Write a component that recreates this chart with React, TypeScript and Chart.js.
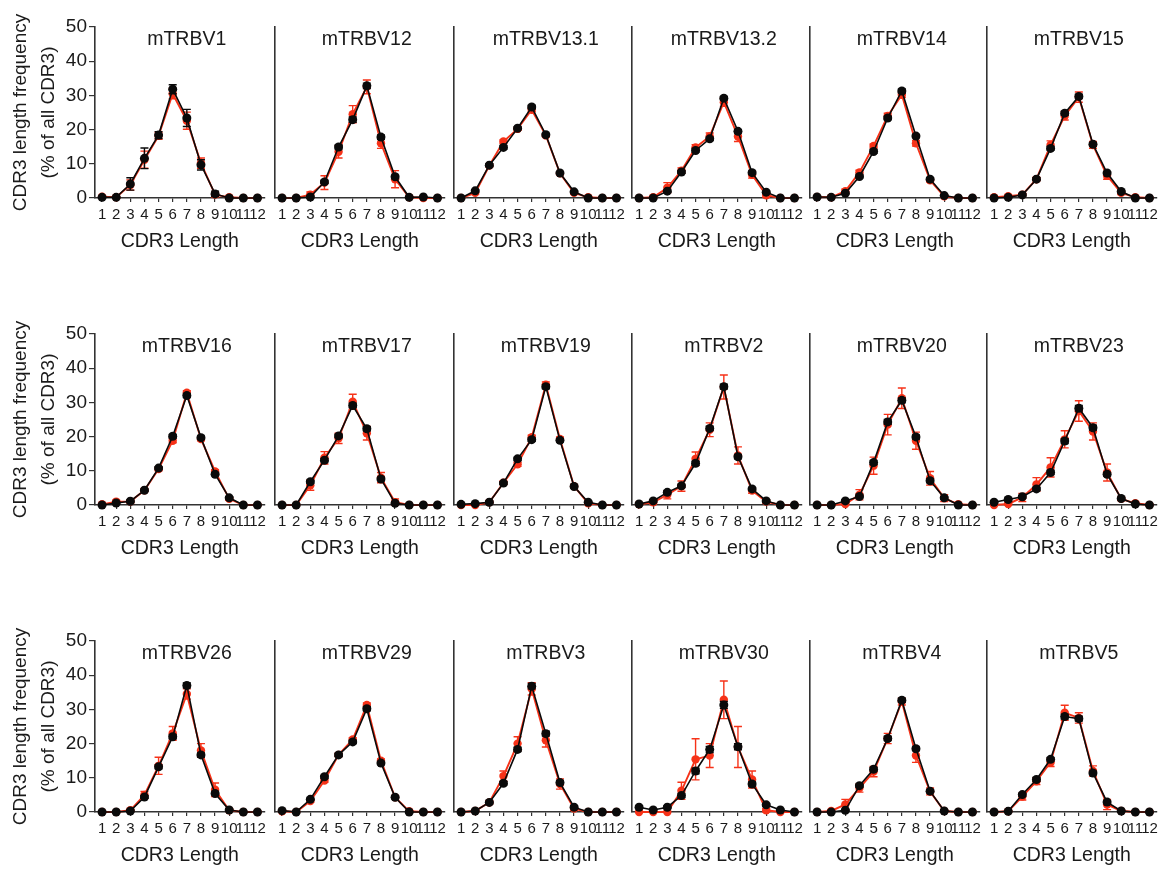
import React, { useEffect, useRef } from "react";
import { Chart, registerables } from "chart.js";

Chart.register(...registerables);

// ---------------- data ----------------
const panelTitles = [
  "mTRBV1", "mTRBV12", "mTRBV13.1", "mTRBV13.2", "mTRBV14", "mTRBV15",
  "mTRBV16", "mTRBV17", "mTRBV19", "mTRBV2", "mTRBV20", "mTRBV23",
  "mTRBV26", "mTRBV29", "mTRBV3", "mTRBV30", "mTRBV4", "mTRBV5",
];

const cdr3Lengths = ["1", "2", "3", "4", "5", "6", "7", "8", "9", "10", "11", "12"];
const yTickValues = [0, 10, 20, 30, 40, 50];
const xAxisTitle = "CDR3 Length";
const yAxisTitle = ["CDR3 length frequency", "(% of all CDR3)"];

const redMeans = [
  [0.4, 0.2, 3.8, 11.2, 18.2, 30.5, 22.6, 10.2, 1.0, 0.2, 0, 0],
  [0, 0, 1.0, 4.5, 13.5, 24.5, 32.5, 16.0, 5.5, 0.2, 0, 0],
  [0, 1.5, 9.5, 16.5, 20.2, 25.8, 18.3, 7.2, 1.5, 0.2, 0, 0],
  [0, 0.2, 3.0, 8.0, 14.8, 18.0, 28.0, 18.0, 6.8, 0.8, 0, 0],
  [0.3, 0.2, 2.0, 7.5, 15.2, 24.0, 30.2, 16.0, 5.2, 0.5, 0, 0],
  [0.2, 0.5, 1.0, 5.5, 15.5, 24.0, 29.5, 15.5, 6.5, 1.5, 0.2, 0],
  [0.2, 1.0, 1.0, 4.3, 10.5, 18.8, 32.8, 19.3, 9.8, 1.8, 0, 0],
  [0, 0, 5.8, 13.8, 19.5, 30.2, 21.0, 8.0, 0.8, 0, 0, 0],
  [0, 0, 0.8, 6.5, 11.9, 19.8, 35.2, 19.3, 5.5, 0.5, 0, 0],
  [0.2, 0.8, 3.0, 5.5, 13.5, 22.0, 34.5, 14.5, 4.2, 1.0, 0, 0],
  [0, 0, 0.3, 3.0, 11.5, 23.5, 31.2, 18.8, 7.8, 2.0, 0.2, 0],
  [0, 0.3, 2.2, 6.0, 11.0, 19.2, 27.5, 21.5, 9.5, 1.8, 0.5, 0],
  [0, 0, 0.5, 5.0, 13.5, 23.0, 34.5, 18.0, 6.5, 0.5, 0, 0],
  [0.2, 0, 3.2, 9.2, 16.7, 21.2, 31.3, 15.0, 4.3, 0.2, 0, 0],
  [0, 0.3, 2.8, 10.5, 20.0, 36.0, 21.0, 8.2, 1.0, 0, 0, 0],
  [0, 0, 0, 6.2, 15.4, 16.5, 32.8, 19.0, 9.5, 0.5, 0, 0],
  [0, 0.3, 2.2, 7.0, 11.8, 21.5, 32.3, 16.5, 6.0, 0.3, 0, 0],
  [0, 0.2, 4.5, 9.0, 14.5, 29.0, 27.5, 12.0, 2.2, 0.3, 0, 0],
];

const redErrors = [
  [0.3, 0.2, 1.5, 2.5, 1.0, 1.5, 2.5, 1.5, 0.8, 0.2, 0, 0],
  [0, 0, 0.8, 2.0, 1.8, 2.5, 2.0, 1.5, 2.5, 0.2, 0, 0],
  [0, 0.4, 0.4, 0.5, 0.4, 0.6, 0.4, 0.4, 0.3, 0.1, 0, 0],
  [0, 0.2, 1.5, 0.8, 0.8, 1.0, 1.2, 1.5, 1.0, 0.6, 0, 0],
  [0.2, 0.2, 0.6, 0.6, 0.6, 0.8, 0.8, 0.8, 0.5, 0.3, 0, 0],
  [0.2, 0.3, 0.3, 0.5, 1.2, 1.2, 1.5, 1.0, 1.0, 0.5, 0.2, 0],
  [0.2, 0.4, 0.4, 0.4, 0.5, 0.6, 0.6, 0.5, 0.5, 0.4, 0, 0],
  [0, 0, 1.5, 1.8, 1.5, 2.2, 2.0, 1.5, 1.0, 0, 0, 0],
  [0, 0, 0.3, 0.5, 0.6, 0.6, 0.8, 0.6, 0.4, 0.3, 0, 0],
  [0.2, 0.5, 1.2, 1.5, 2.0, 2.0, 3.5, 2.5, 0.8, 0.5, 0, 0],
  [0, 0, 0.3, 1.5, 2.5, 3.0, 3.0, 2.5, 2.0, 1.0, 0.2, 0],
  [0, 0.3, 1.2, 2.0, 2.8, 2.5, 3.0, 2.5, 2.5, 0.5, 0.4, 0],
  [0, 0, 0.3, 1.0, 2.5, 2.0, 1.5, 2.0, 2.0, 0.3, 0, 0],
  [0.2, 0, 0.4, 0.5, 0.5, 0.5, 0.6, 0.5, 0.4, 0.2, 0, 0],
  [0, 0.2, 0.5, 1.5, 2.0, 1.8, 2.0, 1.5, 0.5, 0, 0, 0],
  [0, 0, 0, 2.5, 6.0, 3.5, 5.5, 6.0, 2.5, 0.5, 0, 0],
  [0, 0.2, 1.5, 1.2, 1.5, 1.5, 1.0, 2.0, 1.0, 0.2, 0, 0],
  [0, 0.2, 1.0, 1.0, 1.2, 2.2, 1.5, 1.5, 1.5, 0.2, 0, 0],
];

const blackMeans = [
  [0.2, 0.2, 4.1, 11.6, 18.4, 31.8, 23.4, 9.7, 1.2, 0, 0, 0],
  [0, 0, 0.3, 4.7, 14.9, 22.9, 32.8, 17.8, 6.2, 0.2, 0.3, 0],
  [0, 2.1, 9.6, 14.8, 20.4, 26.6, 18.5, 7.3, 1.8, 0, 0, 0],
  [0, 0, 2.0, 7.6, 13.9, 17.3, 29.2, 19.5, 7.4, 1.7, 0, 0],
  [0.3, 0.2, 1.4, 6.3, 13.6, 23.4, 31.3, 18.1, 5.5, 0.7, 0, 0],
  [0, 0.2, 0.9, 5.5, 14.5, 24.8, 29.7, 15.7, 7.3, 1.9, 0, 0],
  [0, 0.6, 1.1, 4.3, 10.8, 20.1, 32.0, 19.7, 9.0, 2.1, 0, 0],
  [0, 0, 6.8, 13.1, 20.2, 29.1, 22.3, 7.6, 0.5, 0, 0, 0],
  [0.2, 0.4, 0.8, 6.4, 13.5, 19.1, 34.6, 18.9, 5.4, 0.8, 0, 0],
  [0.3, 1.2, 3.7, 5.6, 12.2, 22.4, 34.6, 14.1, 4.7, 1.2, 0, 0],
  [0, 0, 1.2, 2.5, 12.4, 24.3, 30.6, 19.9, 7.1, 2.1, 0, 0],
  [0.8, 1.6, 2.4, 4.7, 9.5, 18.7, 28.3, 22.6, 9.0, 1.9, 0.3, 0],
  [0, 0, 0.3, 4.4, 13.2, 22.0, 37.0, 16.7, 5.4, 0.6, 0, 0],
  [0.4, 0, 3.7, 10.3, 16.7, 20.5, 30.2, 14.3, 4.3, 0, 0, 0],
  [0, 0.3, 2.8, 8.4, 18.3, 36.8, 22.9, 8.6, 1.4, 0, 0, 0],
  [1.4, 0.6, 1.4, 4.8, 12.0, 18.3, 31.3, 19.1, 8.2, 2.1, 0.6, 0],
  [0, 0, 0.5, 7.7, 12.5, 21.5, 32.7, 18.5, 6.1, 0.3, 0, 0],
  [0, 0.2, 5.1, 9.5, 15.4, 27.9, 27.3, 11.4, 2.9, 0.3, 0, 0],
];

const blackErrors = [
  [0.2, 0.2, 1.8, 3.0, 1.0, 1.3, 2.5, 1.5, 0.8, 0, 0, 0],
  [0, 0, 0.2, 0.5, 0.6, 0.8, 0.8, 0.6, 0.5, 0.1, 0.1, 0],
  [0, 0.3, 0.4, 0.5, 0.4, 0.5, 0.4, 0.3, 0.3, 0, 0, 0],
  [0, 0, 0.3, 0.4, 0.5, 0.5, 0.5, 0.5, 0.4, 0.3, 0, 0],
  [0.2, 0.1, 0.3, 0.4, 0.5, 0.5, 0.6, 0.5, 0.4, 0.2, 0, 0],
  [0, 0.1, 0.3, 0.4, 0.5, 0.6, 0.6, 0.5, 0.4, 0.3, 0, 0],
  [0, 0.2, 0.3, 0.3, 0.4, 0.5, 0.6, 0.5, 0.4, 0.3, 0, 0],
  [0, 0, 0.4, 0.5, 0.5, 0.6, 0.6, 0.5, 0.3, 0, 0, 0],
  [0.1, 0.2, 0.3, 0.4, 0.5, 0.5, 0.6, 0.5, 0.4, 0.2, 0, 0],
  [0.2, 0.3, 0.4, 0.5, 0.6, 0.6, 0.7, 0.6, 0.4, 0.3, 0, 0],
  [0, 0, 0.3, 0.4, 0.6, 0.7, 0.7, 0.6, 0.5, 0.3, 0, 0],
  [0.3, 0.4, 0.4, 0.5, 0.6, 0.7, 0.8, 0.7, 0.5, 0.3, 0.1, 0],
  [0, 0, 0.2, 0.4, 0.6, 0.6, 0.7, 0.6, 0.4, 0.2, 0, 0],
  [0.2, 0, 0.3, 0.4, 0.5, 0.5, 0.6, 0.5, 0.4, 0, 0, 0],
  [0, 0.1, 0.3, 0.5, 0.6, 0.8, 0.7, 0.6, 0.4, 0, 0, 0],
  [0.4, 0.3, 0.4, 0.6, 0.8, 0.9, 1.0, 0.9, 0.6, 0.4, 0.2, 0],
  [0, 0, 0.2, 0.4, 0.5, 0.6, 0.6, 0.5, 0.4, 0.1, 0, 0],
  [0, 0.1, 0.4, 0.5, 0.5, 0.7, 0.7, 0.5, 0.4, 0.1, 0, 0],
];

// ---------------- layout & style ----------------
const FONT = "'Liberation Sans', Arial, Helvetica, sans-serif";
const INK = "#1a1a1a";
const AXIS = "#333333";
const RED = "rgb(246, 50, 24)";
const BLACK = "#0a0a0a";

const axisX = [95, 275, 454, 632, 810, 987];
const rowTop = [27, 334, 641];
const plotW = 172;
const plotH = 171;
const padTop = 16;
const padRight = 3;
const xAxisH = 55;

const errorBarPlugin = {
  id: "errorBars",
  beforeDatasetDraw(chart: any, args: any) {
    const ds = chart.data.datasets[args.index];
    const errs: number[] = ds.errors;
    if (!errs) return;
    const yScale = chart.scales.y;
    const ctx = chart.ctx;
    ctx.save();
    ctx.strokeStyle = ds.borderColor;
    ctx.lineWidth = 1.4;
    args.meta.data.forEach((pt: any, i: number) => {
      const v = ds.data[i];
      const e = errs[i];
      if (!e) return;
      const yt = yScale.getPixelForValue(v + e);
      const yb = yScale.getPixelForValue(Math.max(0, v - e));
      const x = pt.x;
      ctx.beginPath();
      ctx.moveTo(x, yt);
      ctx.lineTo(x, yb);
      ctx.moveTo(x - 4, yt);
      ctx.lineTo(x + 4, yt);
      ctx.moveTo(x - 4, yb);
      ctx.lineTo(x + 4, yb);
      ctx.stroke();
    });
    ctx.restore();
  },
};

const panelTitlePlugin = {
  id: "panelTitle",
  afterDraw(chart: any, _args: any, opts: any) {
    const { ctx, chartArea } = chart;
    ctx.save();
    ctx.font = `19.5px ${FONT}`;
    ctx.fillStyle = INK;
    ctx.textAlign = "center";
    ctx.textBaseline = "middle";
    ctx.fillText(opts.text, (chartArea.left + chartArea.right) / 2 + 7, chartArea.top + 13);
    ctx.restore();
  },
};

function Panel({ idx }: { idx: number }) {
  const ref = useRef<HTMLCanvasElement>(null);
  const row = Math.floor(idx / 6);
  const col = idx % 6;
  const leftW = col === 0 ? 95 : 6;
  const left = axisX[col] - leftW;
  const top = rowTop[row] - padTop;
  const width = leftW + plotW + padRight;
  const height = padTop + plotH + xAxisH;

  useEffect(() => {
    const canvas = ref.current;
    if (!canvas) return;
    const first = col === 0;
    const chart = new Chart(canvas, {
      type: "line",
      data: {
        labels: cdr3Lengths,
        datasets: [
          {
            label: "black",
            data: blackMeans[idx],
            errors: blackErrors[idx],
            borderColor: BLACK,
            backgroundColor: BLACK,
            pointBackgroundColor: BLACK,
            pointBorderColor: BLACK,
            pointRadius: 4.5,
            pointBorderWidth: 0,
            borderWidth: 1.6,
            tension: 0,
            clip: false,
          } as any,
          {
            label: "red",
            data: redMeans[idx],
            errors: redErrors[idx],
            borderColor: RED,
            backgroundColor: RED,
            pointBackgroundColor: RED,
            pointBorderColor: RED,
            pointRadius: 4.2,
            pointBorderWidth: 0,
            borderWidth: 1.9,
            tension: 0,
            clip: false,
          } as any,
        ],
      },
      options: {
        responsive: false,
        animation: false,
        devicePixelRatio: 1,
        layout: { padding: { top: padTop, right: padRight, left: 0, bottom: 0 } },
        events: [],
        plugins: {
          legend: { display: false },
          tooltip: { enabled: false },
          title: { display: false },
          panelTitle: { text: panelTitles[idx] },
        } as any,
        scales: {
          x: {
            type: "category",
            offset: true,
            grid: {
              display: true,
              drawOnChartArea: false,
              drawTicks: true,
              tickLength: 4,
              color: AXIS,
              lineWidth: 1.2,
            },
            border: { display: true, color: AXIS, width: 1.6 },
            ticks: {
              font: { family: FONT, size: 15 },
              color: INK,
              padding: 4,
              maxRotation: 0,
              minRotation: 0,
              autoSkip: false,
            },
            title: {
              display: true,
              text: xAxisTitle,
              font: { family: FONT, size: 19.5 },
              color: INK,
              padding: { top: 8, bottom: 0 },
            },
            afterFit: (s: any) => {
              s.height = xAxisH;
            },
          },
          y: {
            min: 0,
            max: 50,
            afterBuildTicks: (s: any) => {
              s.ticks = yTickValues.map((v) => ({ value: v }));
            },
            grid: {
              display: first,
              drawOnChartArea: false,
              drawTicks: true,
              tickLength: 6,
              color: AXIS,
              lineWidth: 1.2,
            },
            border: { display: true, color: AXIS, width: 1.6 },
            ticks: {
              display: first,
              font: { family: FONT, size: 19 },
              color: INK,
              padding: 2,
            },
            title: {
              display: first,
              text: yAxisTitle,
              font: { family: FONT, size: 19, lineHeight: 1.45 },
              color: INK,
              padding: { top: 7, bottom: 0 },
            },
            afterFit: (s: any) => {
              s.width = leftW;
            },
          },
        },
      },
      plugins: [errorBarPlugin, panelTitlePlugin],
    } as any);
    return () => chart.destroy();
  }, [idx]);

  return (
    <canvas
      ref={ref}
      width={width}
      height={height}
      style={{ position: "absolute", left, top, width, height, display: "block" }}
    />
  );
}

export default function App() {
  return (
    <div
      style={{
        position: "absolute",
        left: 0,
        top: 0,
        width: 1167,
        height: 871,
        background: "#ffffff",
        overflow: "hidden",
      }}
    >
      {panelTitles.map((_, i) => (
        <Panel key={i} idx={i} />
      ))}
    </div>
  );
}
